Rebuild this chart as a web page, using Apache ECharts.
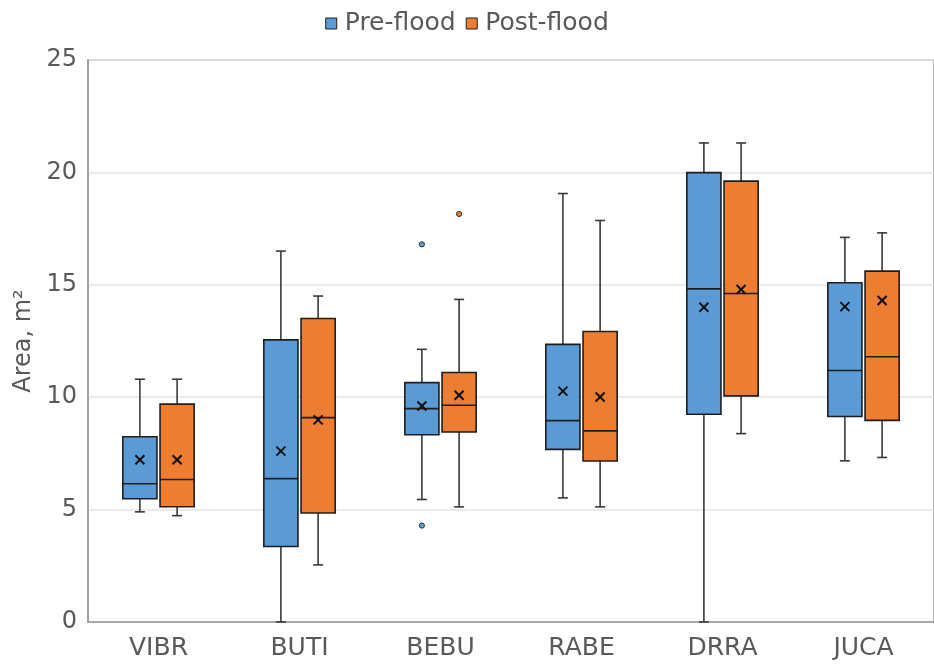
<!DOCTYPE html>
<html><head><meta charset="utf-8">
<script src="https://cdn.jsdelivr.net/npm/echarts@6/dist/echarts.min.js"></script>
<style>html,body{margin:0;padding:0;background:#fff}#c{width:934px;height:664px}</style>
</head><body><div id="c"></div>
<script>
const categories = ['VIBR','BUTI','BEBU','RABE','DRRA','JUCA'];
// [low whisker, Q1, median, Q3, high whisker, mean]
const preStats = [
  [4.9, 5.48, 6.15, 8.24, 10.8, 7.22],
  [0.0, 3.36, 6.38, 12.55, 16.5, 7.6],
  [5.45, 8.33, 9.49, 10.65, 12.13, 9.61],
  [5.52, 7.68, 8.96, 12.35, 19.06, 10.27],
  [0.0, 9.24, 14.82, 19.99, 21.31, 14.0],
  [7.17, 9.14, 11.19, 15.09, 17.11, 14.03]
];
const postStats = [
  [4.73, 5.13, 6.34, 9.69, 10.8, 7.22],
  [2.54, 4.85, 9.09, 13.5, 14.5, 8.99],
  [5.12, 8.45, 9.64, 11.1, 14.35, 10.09],
  [5.12, 7.16, 8.5, 12.92, 17.86, 10.01],
  [8.38, 10.06, 14.61, 19.61, 21.31, 14.79],
  [7.32, 8.97, 11.8, 15.61, 17.31, 14.3]
];
// outliers: [category index, value]
const preOutliers = [[2, 16.8], [2, 4.29]];
const postOutliers = [[2, 18.15]];
const yTicks = [0, 5, 10, 15, 20, 25];

const preColor = '#5B9BD5', postColor = '#ED7D31';
const edge = '#1e1e1e', whisk = '#3a3a3a';

function boxSeries(name, stats, color, offFrac) {
  return {
    name: name, type: 'custom',
    data: stats.map((s, i) => [i].concat(s)),
    encode: { x: 0, y: [1, 2, 3, 4, 5, 6] },
    itemStyle: { color: color, borderColor: edge, borderWidth: 1 },
    renderItem: function (params, api) {
      const i = api.value(0);
      const band = api.size([1, 0])[0];
      const cx = api.coord([i, 0])[0] + offFrac * band;
      const hw = band * 0.121;
      const y = k => api.coord([i, api.value(k)])[1];
      const yLo = y(1), yQ1 = y(2), yMed = y(3), yQ3 = y(4), yHi = y(5), yMean = y(6);
      const cap = 5, m = 4.5;
      const ls = { stroke: whisk, lineWidth: 1.6 };
      return {
        type: 'group',
        children: [
          { type: 'line', shape: { x1: cx, y1: yHi, x2: cx, y2: yQ3 }, style: ls },
          { type: 'line', shape: { x1: cx, y1: yQ1, x2: cx, y2: yLo }, style: ls },
          { type: 'line', shape: { x1: cx - cap, y1: yHi, x2: cx + cap, y2: yHi }, style: ls },
          { type: 'line', shape: { x1: cx - cap, y1: yLo, x2: cx + cap, y2: yLo }, style: ls },
          { type: 'rect', shape: { x: cx - hw, y: yQ3, width: 2 * hw, height: yQ1 - yQ3 },
            style: { fill: color, stroke: edge, lineWidth: 1.6 } },
          { type: 'line', shape: { x1: cx - hw, y1: yMed, x2: cx + hw, y2: yMed }, style: { stroke: edge, lineWidth: 1.6 } },
          { type: 'line', shape: { x1: cx - m, y1: yMean - m, x2: cx + m, y2: yMean + m }, style: { stroke: '#111', lineWidth: 2 } },
          { type: 'line', shape: { x1: cx - m, y1: yMean + m, x2: cx + m, y2: yMean - m }, style: { stroke: '#111', lineWidth: 2 } }
        ]
      };
    }
  };
}
function outlierSeries(name, pts, color, offFrac) {
  return {
    name: name, type: 'custom',
    data: pts,
    encode: { x: 0, y: 1 },
    itemStyle: { color: color },
    renderItem: function (params, api) {
      const band = api.size([1, 0])[0];
      const p = api.coord([api.value(0), api.value(1)]);
      return { type: 'circle', shape: { cx: p[0] + offFrac * band, cy: p[1], r: 2.6 },
        style: { fill: color, stroke: '#333', lineWidth: 1 } };
    }
  };
}

const chart = echarts.init(document.getElementById('c'), null, { renderer: 'canvas' });
chart.setOption({
  animation: false,
  textStyle: { fontFamily: 'DejaVu Sans' },
  legend: {
    top: 6, left: 'center',
    data: [
      { name: 'Pre-flood', icon: 'rect', itemStyle: { color: preColor, borderColor: edge, borderWidth: 1 } },
      { name: 'Post-flood', icon: 'rect', itemStyle: { color: postColor, borderColor: edge, borderWidth: 1 } }
    ],
    itemWidth: 11, itemHeight: 11, itemGap: 10,
    textStyle: { fontSize: 25, color: '#595959', fontFamily: 'DejaVu Sans', padding: [0, 0, 0, 3] }
  },
  grid: { left: 88, right: -1, top: 60, bottom: 42, show: true, borderColor: '#9a9a9a', borderWidth: 1.5 },
  xAxis: {
    type: 'category', data: categories,
    axisLine: { lineStyle: { color: '#9a9a9a', width: 1.5 } },
    axisTick: { show: false },
    axisLabel: { fontSize: 25, color: '#595959', margin: 14 }
  },
  yAxis: {
    type: 'value', min: yTicks[0], max: yTicks[yTicks.length - 1], interval: 5,
    name: 'Area, m²', nameLocation: 'middle', nameGap: 50,
    nameTextStyle: { fontSize: 24, color: '#595959' },
    axisLine: { show: true, lineStyle: { color: '#9a9a9a', width: 1.5 } },
    axisTick: { show: false },
    splitLine: { lineStyle: { color: '#e3e3e3', width: 1.5 } },
    axisLabel: { fontSize: 24, color: '#595959', margin: 11 }
  },
  series: [
    boxSeries('Pre-flood', preStats, preColor, -0.132),
    boxSeries('Post-flood', postStats, postColor, 0.132),
    outlierSeries('Pre-flood', preOutliers, preColor, -0.132),
    outlierSeries('Post-flood', postOutliers, postColor, 0.132)
  ]
});
</script></body></html>
